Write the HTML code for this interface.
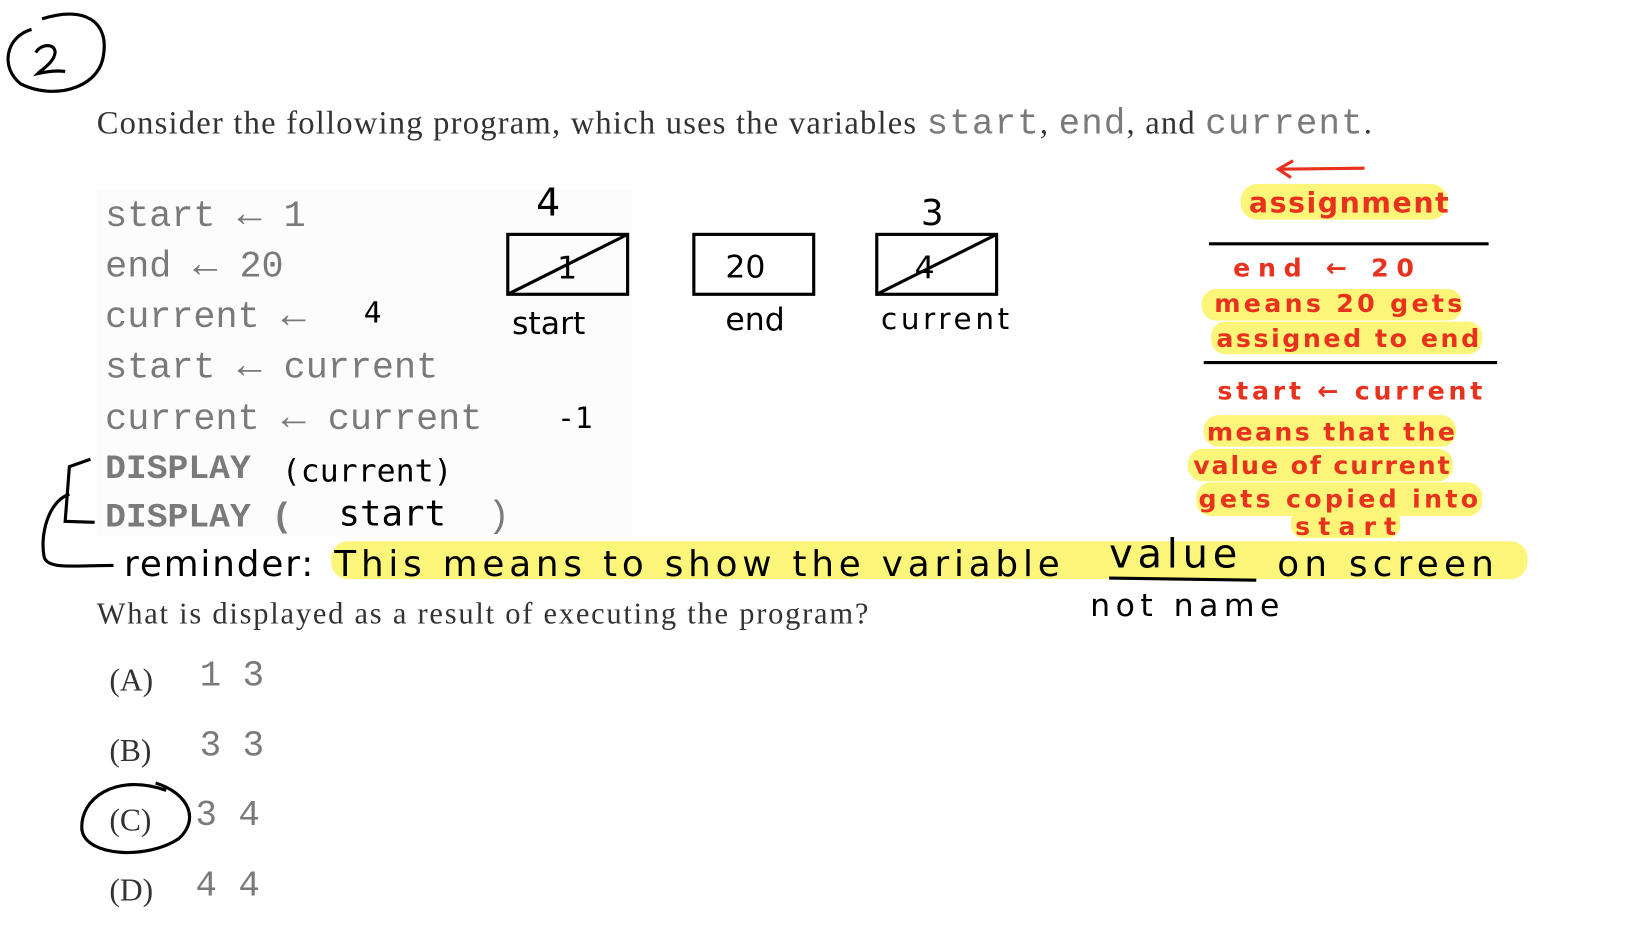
<!DOCTYPE html>
<html><head><meta charset="utf-8"><style>
html,body{margin:0;padding:0;background:#fff;width:1640px;height:927px;overflow:hidden}
svg{display:block}
.hw{font-family:"DejaVu Sans","Liberation Sans",sans-serif}
.mono{font-family:"Liberation Mono",monospace;fill:#7a7a7a}
.serif{font-family:"Liberation Serif",serif;fill:#333}
.red{fill:#e8321e;font-family:"DejaVu Sans","Liberation Sans",sans-serif;font-weight:bold}
</style></head><body>
<svg width="1640" height="927" viewBox="0 0 1560 882" preserveAspectRatio="none" xmlns="http://www.w3.org/2000/svg">
<path d="M40 18 C80 5 105 20 98 55 C92 85 50 95 20 80 C0 65 5 35 30 28" fill="none" stroke="#000" stroke-width="3"/>
<path d="M34 50 C40 40 55 42 52 52 C50 60 40 66 36 70 C45 68 55 67 62 68" fill="none" stroke="#000" stroke-width="3"/>
<text x="92" y="127" class="serif" font-size="31" textLength="1213" lengthAdjust="spacing">Consider the following program, which uses the variables <tspan class="mono" font-size="34" fill="#777">start</tspan>, <tspan class="mono" font-size="34" fill="#777">end</tspan>, and <tspan class="mono" font-size="34" fill="#777">current</tspan>.</text>
<rect x="92" y="180" width="510" height="330" fill="#fcfcfc"/>
<g class="mono" font-size="35">
<text x="100" y="215">start <tspan font-size="38">←</tspan> 1</text>
<text x="100" y="263">end <tspan font-size="38">←</tspan> 20</text>
<text x="100" y="311">current <tspan font-size="38">←</tspan></text>
<text x="100" y="359">start <tspan font-size="38">←</tspan> current</text>
<text x="100" y="408">current <tspan font-size="38">←</tspan> current</text>
<text x="100" y="455" font-weight="bold" font-size="33">DISPLAY</text>
<text x="100" y="501" font-weight="bold" font-size="33">DISPLAY (</text>
<text x="464" y="501">)</text>
</g>
<g font-family="DejaVu Sans Mono,monospace" fill="#000">
<text x="346" y="307" font-size="28">4</text>
<text x="530" y="407" font-size="28">-1</text>
<text x="268" y="458" font-size="30">(current)</text>
<text x="322" y="500" font-size="34">start</text>
</g>
<g fill="none" stroke="#000" stroke-width="3">
<rect x="483" y="223" width="114" height="57"/>
<line x1="483" y1="280" x2="597" y2="223"/>
<rect x="660" y="223" width="114" height="57"/>
<rect x="834" y="223" width="114" height="57"/>
<line x1="834" y1="280" x2="948" y2="223"/>
</g>
<g class="hw" fill="#000">
<text x="510" y="205" font-size="36">4</text>
<text x="876" y="214" font-size="34">3</text>
<text x="530" y="265" font-size="30">1</text>
<text x="690" y="264" font-size="30">20</text>
<text x="870" y="265" font-size="30">4</text>
<text x="487" y="318" font-size="30">start</text>
<text x="690" y="314" font-size="30">end</text>
<text x="838" y="313" font-size="28" textLength="122">current</text>
</g>
<path d="M1298 160 L1218 161 M1230 153 L1216 161 L1228 169" stroke="#e8321e" stroke-width="3" fill="none"/>
<g fill="#fbf57a">
<rect x="1180" y="175" width="197" height="34" rx="16"/>
<rect x="1143" y="275" width="248" height="30" rx="14"/>
<rect x="1152" y="306" width="258" height="31" rx="14"/>
<rect x="1145" y="395" width="240" height="30" rx="14"/>
<rect x="1130" y="427" width="252" height="31" rx="14"/>
<rect x="1138" y="459" width="272" height="32" rx="14"/>
<rect x="1228" y="484" width="104" height="28" rx="12"/>
<rect x="315" y="515" width="1138" height="36" rx="16"/>
</g>
<line x1="1150" y1="232" x2="1416" y2="232" stroke="#000" stroke-width="3"/>
<line x1="1145" y1="345" x2="1424" y2="345" stroke="#000" stroke-width="3"/>
<text x="1188" y="202" class="red" font-size="27" textLength="190">assignment</text>
<text x="1173" y="263" class="red" font-size="24" textLength="172">end ← 20</text>
<text x="1155" y="297" class="red" font-size="24" textLength="236">means  20 gets</text>
<text x="1157" y="330" class="red" font-size="24" textLength="250">assigned to end</text>
<text x="1158" y="380" class="red" font-size="24" textLength="252">start ← current</text>
<text x="1148" y="419" class="red" font-size="24" textLength="236">means that the</text>
<text x="1135" y="451" class="red" font-size="24" textLength="244">value of current</text>
<text x="1140" y="483" class="red" font-size="24" textLength="266">gets copied into</text>
<text x="1232" y="509" class="red" font-size="24" textLength="96">start</text>
<path d="M86 437 L66 444 L62 496 L90 497" fill="none" stroke="#000" stroke-width="3"/>
<path d="M66 470 C45 478 38 510 42 530 C45 542 70 538 108 538" fill="none" stroke="#000" stroke-width="3"/>
<text x="118" y="548" class="hw" font-size="34" fill="#000" textLength="180">reminder:</text>
<text x="318" y="548" class="hw" font-size="34" fill="#000" textLength="690" lengthAdjust="spacing">This means  to show  the variable</text>
<text x="1055" y="540" class="hw" font-size="38" fill="#000" textLength="122">value</text>
<text x="1215" y="548" class="hw" font-size="34" fill="#000" textLength="206">on screen</text>
<path d="M1055 550 L1195 552" stroke="#000" stroke-width="3"/>
<text x="1037" y="586" class="hw" font-size="30" fill="#000" textLength="180">not name</text>
<text x="92" y="593" class="serif" font-size="29" textLength="734">What is displayed as a result of executing the program?</text>
<g class="serif" font-size="30">
<text x="104" y="657">(A)</text>
<text x="104" y="724">(B)</text>
<text x="104" y="790">(C)</text>
<text x="104" y="857">(D)</text>
</g>
<g class="mono" font-size="34">
<text x="190" y="652">1 3</text>
<text x="190" y="719">3 3</text>
<text x="186" y="785">3 4</text>
<text x="186" y="852">4 4</text>
</g>
<path d="M158 752 C110 735 75 760 78 790 C82 815 140 818 170 798 C190 780 180 755 148 745" fill="none" stroke="#000" stroke-width="3"/>
</svg>
</body></html>
